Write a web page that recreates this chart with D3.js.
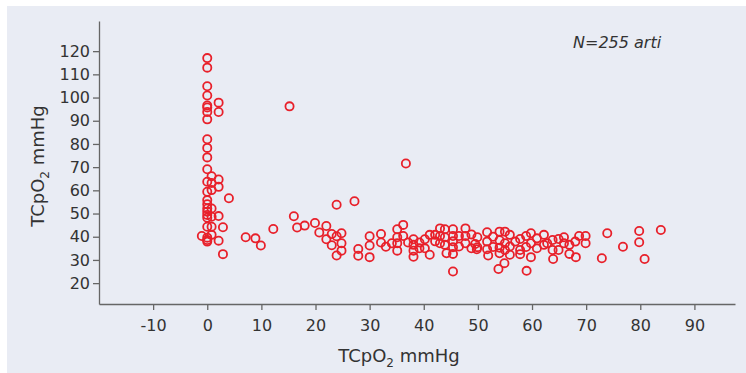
<!DOCTYPE html>
<html>
<head>
<meta charset="utf-8">
<script src="https://cdn.jsdelivr.net/npm/d3@7"></script>
<style>
  body { margin: 0; background: #fff; }
  svg { display: block; font-family: "DejaVu Sans", Verdana, sans-serif; }
</style>
</head>
<body>
<figure id="scatter" style="margin:0"></figure>
<script>
// x/y pairs (TCpO2 mmHg)
const xValues = [
  0, 0, 0, 0, 0, 0, 0, 0, 0, 0, 0, 0, 0, 0, 0, 0, 0, 0, 0, 0, 0, 0, 0, 0,
  0.8, 0.8, 0.8, 0.8, 0.8, 0.8, 0.8,
  2.1, 2.1, 2.1, 2.1, 2.1, 2.1,
  2.9, 2.9, 4, -1,
  7.1, 8.9, 9.9, 12.2, 15.2,
  16, 16.6, 18, 19.9, 20.7, 22, 22, 23, 23, 23.9, 23.9, 24.8, 24.8, 24.8, 23.9, 27.2, 27.9, 27.9, 30, 30, 30,
  32.1, 32.1, 33, 34.1, 35.1, 35.1, 35.1, 35.1, 36.2, 36.2, 36.7, 37.1, 38.1, 38.1, 38.1, 38.1, 39.2, 39.2,
  40.2, 40.2, 41.1, 41.1, 42.1, 42.1, 43, 43, 43, 43.9, 43.9, 43.9, 44.2, 45.4, 45.4, 45.4, 45.4, 45.4, 45.4,
  46.5, 46.5, 47.7, 47.7, 47.7, 48.8, 48.8, 49.9, 49.9, 49.5, 49.8,
  51.7, 51.7, 51.7, 51.9, 52.8, 52.8, 53.8, 54, 54, 54, 54, 54.9, 55, 55, 55, 55.9, 55.9, 55.9, 56.9,
  57.8, 57.8, 57.8, 58.9, 58.9, 59, 59.8, 59.8, 59.8, 60.9, 60.9, 62.2, 62.2, 62.8, 63.8, 63.8, 63.9,
  64.9, 64.9, 65.9, 65.9, 66.9, 66.9, 68, 68.1, 68.7, 69.9, 69.9, 72.9, 73.9, 76.8, 79.8, 79.8, 80.8, 83.8
];
const yValues = [
  117, 112.9, 104.9, 100.9, 96.6, 95.7, 93.8, 90.6, 82, 78.3, 74.2, 69.1, 63.7, 59.4, 55.8, 54, 52.2, 50.8, 49.4, 48.2, 44.3, 39.6, 38.6, 37.9,
  66.1, 63.2, 60.1, 52.2, 48.6, 44.3, 40.8,
  97.8, 93.8, 64.7, 61.5, 48.9, 38.3,
  44.1, 32.5, 56.6, 40.3,
  39.8, 39.3, 36.2, 43.3, 96.2,
  48.8, 44, 44.8, 45.9, 41.8, 44.6, 38.9, 41.2, 36.3, 40.2, 31.9, 41.5, 37.2, 34, 53.8, 55.3, 34.7, 31.8, 40.2, 36.2, 31.2,
  41.2, 37.5, 35.7, 37.2, 43.2, 39.8, 37.2, 34, 45.1, 40.3, 71.6, 37.5, 38.9, 36.5, 34, 31.4, 37.5, 35,
  38.9, 35, 40.8, 32.2, 40.8, 38, 43.6, 40.3, 37.2, 43.2, 39.8, 36.5, 32.9, 43.2, 40.3, 38, 35.5, 32.6, 25,
  40.3, 35.8, 43.6, 40.3, 37.2, 41, 35, 39.8, 35.5, 36.9, 34.6,
  41.9, 37.9, 34.6, 31.9, 40, 35.6, 26.1, 42.2, 38.5, 35.3, 32.9, 28.6, 42.2, 37.2, 34.3, 40.8, 35.8, 32.2, 37.9,
  39, 34.3, 32.5, 40.3, 35.6, 25.3, 41.5, 37.2, 31.2, 39.3, 35, 40.8, 36.5, 37.2, 38.6, 34.3, 30.4,
  39, 34.3, 39.8, 37.2, 36.5, 32.6, 37.9, 31.2, 40.3, 40.3, 37.2, 30.7, 41.5, 35.7, 42.5, 37.6, 30.4, 42.9
];
const xTicks = [-10, 0, 10, 20, 30, 40, 50, 60, 70, 80, 90];
const yTicks = [20, 30, 40, 50, 60, 70, 80, 90, 100, 110, 120];
const note = "N=255 arti";

const width = 746, height = 373;
const plotLeft = 99, plotRight = 735, plotTop = 21, plotBottom = 304;

const svg = d3.select("figure#scatter")
  .append("svg")
  .attr("width", width)
  .attr("height", height);

// panel background
svg.append("rect")
  .attr("x", 7).attr("y", 6)
  .attr("width", width - 7).attr("height", height - 6)
  .attr("fill", "#e9ecf4");

const x = d3.scaleLinear().domain([-20, 97.5]).range([plotLeft, plotRight]);
const y = d3.scaleLinear().domain([11, 133]).range([plotBottom, plotTop]);

// plain hyphen for negatives, like the original
const plain = d => String(d);

const xAxis = svg.append("g")
  .attr("transform", `translate(0,${plotBottom})`)
  .call(d3.axisBottom(x).tickValues(xTicks).tickFormat(plain).tickSize(6).tickSizeOuter(0).tickPadding(10));

const yAxis = svg.append("g")
  .attr("transform", `translate(${plotLeft},0)`)
  .call(d3.axisLeft(y).tickValues(yTicks).tickFormat(plain).tickSize(6).tickSizeOuter(0).tickPadding(3));

[xAxis, yAxis].forEach(g => {
  g.select(".domain").attr("stroke", "#666").attr("stroke-width", 1.3);
  g.selectAll(".tick line").attr("stroke", "#666").attr("stroke-width", 1.3);
  g.selectAll(".tick text")
    .attr("fill", "#333")
    .style("font-size", "16px")
    .style("font-family", "'DejaVu Sans', Verdana, sans-serif");
});

const data = xValues.map((v, i) => ({x: v, y: yValues[i]}));

svg.append("g")
  .selectAll("circle")
  .data(data)
  .enter()
  .append("circle")
  .attr("cx", d => x(d.x))
  .attr("cy", d => y(d.y))
  .attr("r", 4.1)
  .attr("fill", "none")
  .attr("stroke", "#e8202a")
  .attr("stroke-width", 1.8);

// axis titles
const xTitle = svg.append("text")
  .attr("x", 399)
  .attr("y", 362)
  .attr("text-anchor", "middle")
  .attr("fill", "#333")
  .style("font-size", "18px");
xTitle.append("tspan").text("TCpO");
xTitle.append("tspan").attr("dy", 5).style("font-size", "12px").text("2");
xTitle.append("tspan").attr("dy", -5).text(" mmHg");

const yTitle = svg.append("text")
  .attr("transform", "translate(44,166) rotate(-90)")
  .attr("text-anchor", "middle")
  .attr("fill", "#333")
  .style("font-size", "18px");
yTitle.append("tspan").text("TCpO");
yTitle.append("tspan").attr("dy", 5).style("font-size", "12px").text("2");
yTitle.append("tspan").attr("dy", -5).text(" mmHg");

svg.append("text")
  .attr("x", 573)
  .attr("y", 48)
  .attr("fill", "#333")
  .style("font-size", "16px")
  .style("font-style", "italic")
  .text(note);
</script>
</body>
</html>
